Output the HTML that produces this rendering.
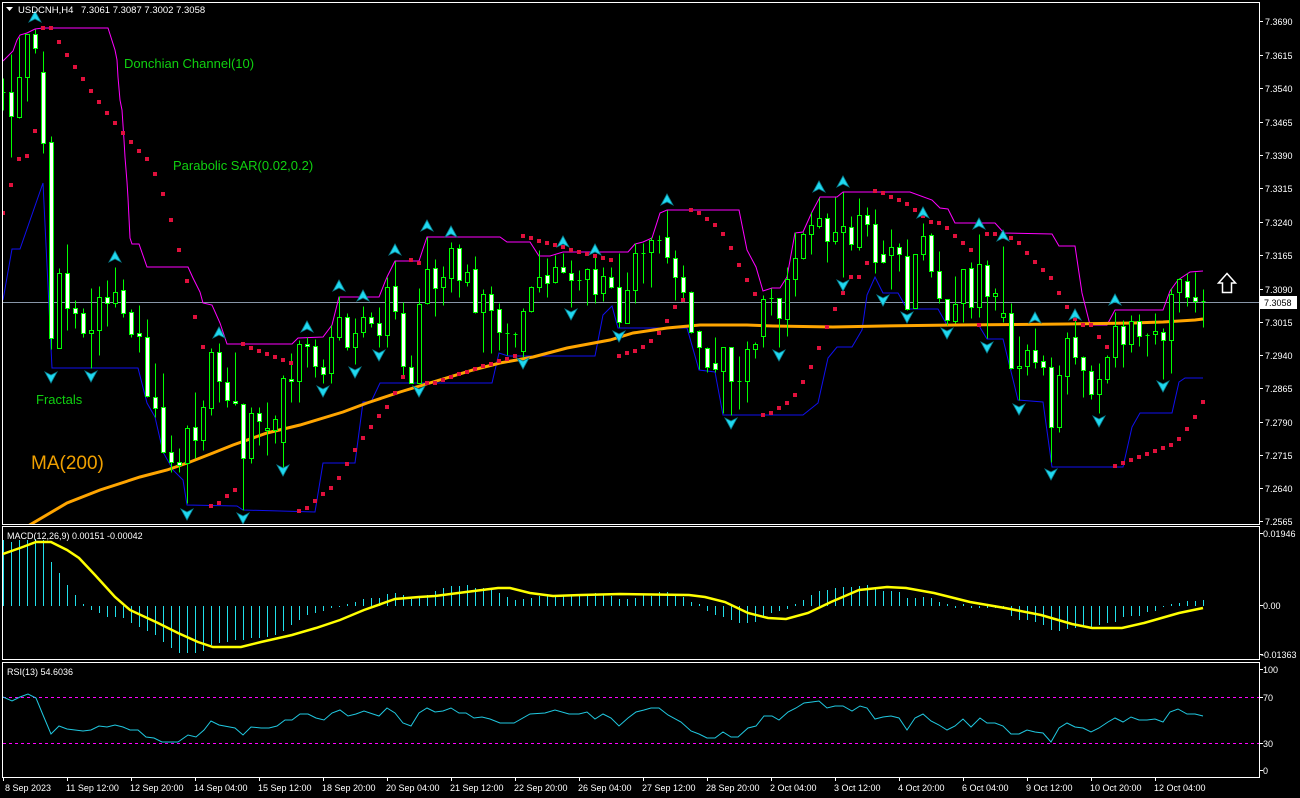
<!DOCTYPE html>
<html><head><meta charset="utf-8"><style>
html,body{margin:0;padding:0;background:#000;}
svg{display:block;font-family:"Liberation Sans",sans-serif;}
</style></head><body>
<svg width="1300" height="798" viewBox="0 0 1300 798" xmlns="http://www.w3.org/2000/svg">
<rect width="1300" height="798" fill="#000"/>
<defs><clipPath id="cm"><rect x="3" y="3" width="1256" height="521"/></clipPath>
<clipPath id="cd"><rect x="3" y="527" width="1256" height="133"/></clipPath>
<clipPath id="cr"><rect x="3" y="663" width="1256" height="114"/></clipPath></defs>
<!-- frames -->
<g fill="none" stroke="#fff" stroke-width="1" shape-rendering="crispEdges">
<rect x="2.5" y="2.5" width="1257" height="522"/>
<rect x="2.5" y="526.5" width="1257" height="133"/>
<rect x="2.5" y="662.5" width="1257" height="115"/>
</g>
<g clip-path="url(#cm)">
<line x1="3" y1="302.5" x2="1259" y2="302.5" stroke="#8896a8" stroke-width="1"/>
<polyline fill="none" stroke="#ff00ff" stroke-width="1" points="3,61 13,51 17,40 20,35 27,33 35,29 43,28 108,28 115,50 117,60 118,77 120,100 122,110 124,140 125,157 127,182 128,198 130,238 132,244 139,244 147,267 188,267 193,278 200,292 203,303 212,305 220,323 227,344 292,344 298,338 323,337 332,325 339,297 379,297 387,277 395,261 419,261 427,237 500,237 507,242 530,242 539,256 550,256 563,252 628,252 635,244 643,242 652,238 660,213 667,210 739,210 747,250 756,267 763,291 772,288 780,288 787,277 795,233 803,232 812,212 820,197 837,197 843,192 910,192 932,200 940,208 948,209 955,223 995,223 1004,233 1052,234 1059,246 1075,246 1082,293 1090,325 1107,325 1115,310 1163,310 1170,291 1178,280 1190,272 1203,271"/>
<polyline fill="none" stroke="#1010f0" stroke-width="1" points="3,300 12,249 20,249 43,183 51,348 52,368 138,368 147,403 155,417 163,452 173,470 183,480 187,505 237,506 243,510 315,512 323,463 355,463 363,402 371,402 380,383 492,383 499,353 508,356 595,356 603,315 610,308 612,306 618,328 687,328 699,370 715,372 723,415 803,415 818,403 828,358 837,347 852,347 862,330 867,295 875,277 883,293 898,293 907,309 938,309 947,325 978,324 987,339 1003,339 1018,400 1043,402 1052,467 1123,467 1132,427 1140,413 1172,413 1179,382 1185,378 1203,378"/>
<polyline fill="none" stroke="#ffa500" stroke-width="3" points="28,526 33,523 67,503 100,490 140,477 167,470 190,462 213,453 233,445 267,433 300,425 343,412 367,403 400,392 433,382 473,370 500,363 533,357 567,348 610,340 633,333 667,328 700,325 747,325 773,326 833,327 883,326 955,325 1067,324 1133,323 1163,322 1195,320 1203,319"/>
<g transform="translate(0.5,0.5)" stroke="#00ff00" stroke-width="1" shape-rendering="crispEdges">
<path fill="none" d="M3 78V110M11 54V157M19 37V118M27 34V101M35 29V53M43 51V153M51 136V349M59 268V348M67 244V330M75 300V328M83 308V337M91 288V368M99 286V355M107 280V326M115 267V307M123 279V317M131 309V337M139 305V352M147 319V397M155 363V417M163 373V453M171 435V472M179 448V472M187 425V503M195 392V458M203 400V450M211 348V415M219 343V402M227 367V407M235 352V405M243 403V510M251 407V463M259 407V445M267 402V455M275 415V443M283 375V475M291 353V402M299 340V402M307 337V367M315 339V377M323 359V383M331 325V383M339 296V340M347 313V350M355 318V364M363 306V337M371 312V327M379 307V347M387 277V347M395 261V319M403 302V377M411 355V383M419 288V383M427 237V304M435 259V316M443 266V305M451 242V292M459 244V297M467 264V286M475 256V313M483 289V352M491 286V353M499 303V350M507 323V355M515 332V347M523 308V357M531 286V312M539 250V292M547 258V297M555 255V283M563 253V273M571 260V307M579 270V290M587 268V305M595 255V303M603 267V301M611 267V288M619 253V327M627 272V323M635 243V303M643 243V283M651 237V287M659 235V253M667 210V263M675 250V300M683 265V302M691 291V333M699 330V369M707 347V372M715 337V372M723 347V413M731 347V415M739 356V409M747 341V402M755 342V358M763 295V347M771 288V315M779 298V347M787 267V336M795 232V296M803 232V259M811 212V254M819 198V228M827 213V262M835 197V244M843 192V277M851 216V250M859 198V250M867 207V236M875 209V273M883 240V263M891 229V289M899 243V271M907 239V310M915 254V308M923 223V260M931 233V277M939 251V303M947 299V325M955 276V323M963 269V322M971 262V318M979 234V317M987 260V338M995 288V310M1003 246V322M1011 303V369M1019 336V400M1027 344V375M1035 328V368M1043 355V375M1051 357V462M1059 365V432M1067 332V394M1075 317V364M1083 356V397M1091 365V399M1099 363V413M1107 355V383M1115 312V367M1123 320V367M1131 315V352M1139 314V346M1147 333V356M1155 313V344M1163 328V379M1171 288V373M1179 278V312M1187 273V306M1195 272V312M1203 289V327M1 92h4M505 333h4M513 334h4M577 280h4M641 253h4M657 240h4M737 381h4M769 298h4M1145 335h4M1201 301h4"/>
<path fill="#fff" d="M9 92h4v24h-4zM33 34h4v14h-4zM41 72h4v71h-4zM49 142h4v196h-4zM65 273h4v35h-4zM73 308h4v5h-4zM81 313h4v20h-4zM105 297h4v6h-4zM121 290h4v23h-4zM129 312h4v22h-4zM137 333h4v3h-4zM145 337h4v59h-4zM153 397h4v11h-4zM161 407h4v45h-4zM169 452h4v10h-4zM177 462h4v3h-4zM193 427h4v13h-4zM217 352h4v29h-4zM225 382h4v18h-4zM233 401h4v2h-4zM241 404h4v54h-4zM257 413h4v8h-4zM289 379h4v2h-4zM305 344h4v2h-4zM313 346h4v20h-4zM321 367h4v7h-4zM345 317h4v30h-4zM369 317h4v6h-4zM377 323h4v12h-4zM393 286h4v25h-4zM401 313h4v53h-4zM409 367h4v16h-4zM433 268h4v20h-4zM457 248h4v32h-4zM473 269h4v43h-4zM489 294h4v16h-4zM497 309h4v23h-4zM545 275h4v8h-4zM561 267h4v5h-4zM569 273h4v7h-4zM593 269h4v25h-4zM609 277h4v10h-4zM617 287h4v35h-4zM665 237h4v20h-4zM673 258h4v19h-4zM681 277h4v15h-4zM689 292h4v40h-4zM697 331h4v16h-4zM705 348h4v19h-4zM713 363h4v6h-4zM729 347h4v34h-4zM777 298h4v20h-4zM825 218h4v23h-4zM849 227h4v17h-4zM865 215h4v9h-4zM873 224h4v38h-4zM881 254h4v8h-4zM897 247h4v7h-4zM905 256h4v53h-4zM929 235h4v36h-4zM937 271h4v27h-4zM945 299h4v21h-4zM969 268h4v39h-4zM985 265h4v31h-4zM1009 313h4v55h-4zM1033 350h4v12h-4zM1041 361h4v6h-4zM1049 367h4v60h-4zM1073 337h4v20h-4zM1081 357h4v13h-4zM1089 371h4v23h-4zM1121 326h4v18h-4zM1137 321h4v15h-4zM1161 332h4v8h-4zM1185 281h4v16h-4zM1193 297h4v4h-4z"/>
<path fill="#000" d="M17 77h4v40h-4zM25 34h4v43h-4zM57 273h4v75h-4zM89 330h4v3h-4zM97 297h4v33h-4zM113 292h4v11h-4zM185 428h4v35h-4zM201 407h4v33h-4zM209 352h4v56h-4zM249 413h4v45h-4zM265 428h4v2h-4zM273 419h4v11h-4zM281 378h4v64h-4zM297 344h4v37h-4zM329 337h4v36h-4zM337 317h4v20h-4zM353 333h4v14h-4zM361 317h4v15h-4zM385 287h4v48h-4zM417 304h4v79h-4zM425 269h4v34h-4zM441 277h4v10h-4zM449 248h4v30h-4zM465 272h4v10h-4zM481 294h4v18h-4zM521 311h4v40h-4zM529 287h4v24h-4zM537 277h4v10h-4zM553 267h4v15h-4zM585 269h4v10h-4zM601 276h4v17h-4zM625 290h4v33h-4zM633 253h4v37h-4zM649 240h4v12h-4zM721 347h4v24h-4zM745 349h4v32h-4zM753 344h4v5h-4zM761 299h4v37h-4zM785 279h4v40h-4zM793 258h4v21h-4zM801 234h4v24h-4zM809 225h4v9h-4zM817 218h4v8h-4zM833 232h4v9h-4zM841 226h4v6h-4zM857 215h4v32h-4zM889 247h4v8h-4zM913 254h4v54h-4zM921 236h4v18h-4zM953 304h4v17h-4zM961 269h4v34h-4zM977 264h4v43h-4zM993 293h4v3h-4zM1001 313h4v4h-4zM1017 366h4v2h-4zM1025 350h4v16h-4zM1057 375h4v52h-4zM1065 338h4v38h-4zM1097 379h4v15h-4zM1105 357h4v22h-4zM1113 326h4v31h-4zM1129 321h4v23h-4zM1153 331h4v3h-4zM1169 294h4v46h-4zM1177 279h4v13h-4z"/>
</g>
<!-- Parabolic SAR -->
<path fill="#e0103c" d="M1 211h4v4h-4zM9 183h4v4h-4zM17 157h4v4h-4zM25 154h4v4h-4zM33 129h4v4h-4zM41 26h4v4h-4zM49 26h4v4h-4zM57 40h4v4h-4zM65 53h4v4h-4zM73 65h4v4h-4zM81 77h4v4h-4zM89 89h4v4h-4zM97 100h4v4h-4zM105 111h4v4h-4zM113 121h4v4h-4zM121 131h4v4h-4zM129 140h4v4h-4zM137 149h4v4h-4zM145 157h4v4h-4zM153 172h4v4h-4zM161 192h4v4h-4zM169 218h4v4h-4zM177 248h4v4h-4zM185 279h4v4h-4zM193 315h4v4h-4zM201 345h4v4h-4zM209 504h4v4h-4zM217 501h4v4h-4zM225 494h4v4h-4zM233 488h4v4h-4zM241 342h4v4h-4zM249 346h4v4h-4zM257 349h4v4h-4zM265 352h4v4h-4zM273 355h4v4h-4zM281 358h4v4h-4zM289 361h4v4h-4zM297 509h4v4h-4zM305 506h4v4h-4zM313 499h4v4h-4zM321 492h4v4h-4zM329 486h4v4h-4zM337 476h4v4h-4zM345 462h4v4h-4zM353 448h4v4h-4zM361 436h4v4h-4zM369 425h4v4h-4zM377 414h4v4h-4zM385 405h4v4h-4zM393 391h4v4h-4zM401 375h4v4h-4zM409 258h4v4h-4zM417 261h4v4h-4zM425 381h4v4h-4zM433 381h4v4h-4zM441 378h4v4h-4zM449 375h4v4h-4zM457 372h4v4h-4zM465 370h4v4h-4zM473 367h4v4h-4zM481 364h4v4h-4zM489 362h4v4h-4zM497 359h4v4h-4zM505 357h4v4h-4zM513 354h4v4h-4zM521 234h4v4h-4zM529 236h4v4h-4zM537 239h4v4h-4zM545 241h4v4h-4zM553 243h4v4h-4zM561 245h4v4h-4zM569 248h4v4h-4zM577 250h4v4h-4zM585 252h4v4h-4zM593 254h4v4h-4zM601 256h4v4h-4zM609 258h4v4h-4zM617 354h4v4h-4zM625 351h4v4h-4zM633 349h4v4h-4zM641 345h4v4h-4zM649 339h4v4h-4zM657 331h4v4h-4zM665 319h4v4h-4zM673 305h4v4h-4zM681 298h4v4h-4zM689 208h4v4h-4zM697 211h4v4h-4zM705 217h4v4h-4zM713 223h4v4h-4zM721 232h4v4h-4zM729 246h4v4h-4zM737 263h4v4h-4zM745 278h4v4h-4zM753 292h4v4h-4zM761 413h4v4h-4zM769 411h4v4h-4zM777 406h4v4h-4zM785 401h4v4h-4zM793 393h4v4h-4zM801 380h4v4h-4zM809 365h4v4h-4zM817 346h4v4h-4zM825 325h4v4h-4zM833 307h4v4h-4zM841 291h4v4h-4zM849 275h4v4h-4zM857 275h4v4h-4zM865 261h4v4h-4zM873 189h4v4h-4zM881 191h4v4h-4zM889 195h4v4h-4zM897 198h4v4h-4zM905 202h4v4h-4zM913 208h4v4h-4zM921 214h4v4h-4zM929 220h4v4h-4zM937 221h4v4h-4zM945 226h4v4h-4zM953 234h4v4h-4zM961 241h4v4h-4zM969 248h4v4h-4zM977 323h4v4h-4zM985 232h4v4h-4zM993 232h4v4h-4zM1001 235h4v4h-4zM1009 236h4v4h-4zM1017 241h4v4h-4zM1025 251h4v4h-4zM1033 260h4v4h-4zM1041 268h4v4h-4zM1049 276h4v4h-4zM1057 291h4v4h-4zM1065 305h4v4h-4zM1073 317h4v4h-4zM1081 323h4v4h-4zM1089 323h4v4h-4zM1097 335h4v4h-4zM1105 345h4v4h-4zM1113 464h4v4h-4zM1121 461h4v4h-4zM1129 458h4v4h-4zM1137 455h4v4h-4zM1145 452h4v4h-4zM1153 449h4v4h-4zM1161 446h4v4h-4zM1169 443h4v4h-4zM1177 437h4v4h-4zM1185 427h4v4h-4zM1193 415h4v4h-4zM1201 400h4v4h-4z"/>
<!-- Fractals -->
<path fill="#20d8f0" stroke="#0a8090" stroke-width="0.8" d="M35 11l6 11l-6-3l-6 3zM115 251l6 11l-6-3l-6 3zM219 327l6 11l-6-3l-6 3zM307 321l6 11l-6-3l-6 3zM339 280l6 11l-6-3l-6 3zM363 290l6 11l-6-3l-6 3zM395 244l6 11l-6-3l-6 3zM427 220l6 11l-6-3l-6 3zM451 226l6 11l-6-3l-6 3zM563 236l6 11l-6-3l-6 3zM595 244l6 11l-6-3l-6 3zM667 194l6 11l-6-3l-6 3zM819 181l6 11l-6-3l-6 3zM843 176l6 11l-6-3l-6 3zM923 207l6 11l-6-3l-6 3zM979 218l6 11l-6-3l-6 3zM1003 230l6 11l-6-3l-6 3zM1035 312l6 11l-6-3l-6 3zM1075 309l6 11l-6-3l-6 3zM1115 294l6 11l-6-3l-6 3zM51 383l6-11l-6 3l-6-3zM91 382l6-11l-6 3l-6-3zM187 520l6-11l-6 3l-6-3zM243 524l6-11l-6 3l-6-3zM283 476l6-11l-6 3l-6-3zM323 397l6-11l-6 3l-6-3zM355 378l6-11l-6 3l-6-3zM379 361l6-11l-6 3l-6-3zM419 397l6-11l-6 3l-6-3zM523 369l6-11l-6 3l-6-3zM571 320l6-11l-6 3l-6-3zM619 342l6-11l-6 3l-6-3zM731 429l6-11l-6 3l-6-3zM779 361l6-11l-6 3l-6-3zM843 291l6-11l-6 3l-6-3zM883 306l6-11l-6 3l-6-3zM907 323l6-11l-6 3l-6-3zM947 339l6-11l-6 3l-6-3zM987 353l6-11l-6 3l-6-3zM1019 415l6-11l-6 3l-6-3zM1051 480l6-11l-6 3l-6-3zM1099 427l6-11l-6 3l-6-3zM1163 392l6-11l-6 3l-6-3z"/>
<!-- up arrow sign -->
<path fill="none" stroke="#fff" stroke-width="1.5" d="M1227 273.5L1235.5 283H1231.5V292.5H1222.5V283H1218.5Z"/>
<!-- labels -->
<text x="124" y="68" font-size="13" fill="#10d010">Donchian Channel(10)</text>
<text x="173" y="170" font-size="13" fill="#10d010">Parabolic SAR(0.02,0.2)</text>
<text x="36" y="404" font-size="13" fill="#10d010">Fractals</text>
<text x="31" y="469" font-size="19" fill="#f0a000">MA(200)</text>
</g>
<!-- header -->
<path d="M6 7h7l-3.5 4z" fill="#fff"/>
<text x="18" y="13" font-size="9.5" fill="#fff">USDCNH,H4</text>
<text x="81" y="13" font-size="9.5" fill="#fff">7.3061 7.3087 7.3002 7.3058</text>
<!-- price axis -->
<g stroke="#fff" stroke-width="1" shape-rendering="crispEdges">
<path d="M1259 21.5h4M1259 55.5h4M1259 88.5h4M1259 122.5h4M1259 155.5h4M1259 188.5h4M1259 222.5h4M1259 255.5h4M1259 289.5h4M1259 322.5h4M1259 355.5h4M1259 388.5h4M1259 422.5h4M1259 455.5h4M1259 488.5h4M1259 521.5h4M1259 533.5h4M1259 605.5h4M1259 654.5h4M1259 669.5h4M1259 697.5h4M1259 743.5h4M1259 770.5h4"/>
<path d="M3.5 777v4M67.5 777v4M131.5 777v4M195.5 777v4M259.5 777v4M323.5 777v4M387.5 777v4M451.5 777v4M515.5 777v4M579.5 777v4M643.5 777v4M707.5 777v4M771.5 777v4M835.5 777v4M899.5 777v4M963.5 777v4M1027.5 777v4M1091.5 777v4M1155.5 777v4"/>
</g>
<g font-size="9" fill="#fff">
<text x="1265" y="25">7.3690</text>
<text x="1265" y="59">7.3615</text>
<text x="1265" y="92">7.3540</text>
<text x="1265" y="126">7.3465</text>
<text x="1265" y="159">7.3390</text>
<text x="1265" y="192">7.3315</text>
<text x="1265" y="226">7.3240</text>
<text x="1265" y="259">7.3165</text>
<text x="1265" y="293">7.3090</text>
<text x="1265" y="326">7.3015</text>
<text x="1265" y="359">7.2940</text>
<text x="1265" y="392">7.2865</text>
<text x="1265" y="426">7.2790</text>
<text x="1265" y="459">7.2715</text>
<text x="1265" y="492">7.2640</text>
<text x="1265" y="525">7.2565</text>
</g>
<rect x="1260" y="296" width="37" height="13" fill="#fff"/>
<text x="1264" y="306" font-size="9" fill="#000">7.3058</text>
<!-- MACD -->
<g clip-path="url(#cd)">
<path transform="translate(0.5,0)" stroke="#20e0ea" stroke-width="1" fill="none" shape-rendering="crispEdges" d="M3 606V540M11 606V542M19 606V540M27 606V540M35 606V539M43 606V540M51 606V562M59 606V573M67 606V585M75 606V595M83 606V604M91 606V610M99 606V613M107 606V617M115 606V617M123 606V618M131 606V623M139 606V627M147 606V631M155 606V635M163 606V642M171 606V648M179 606V653M187 606V653M195 606V653M203 606V651M211 606V645M219 606V643M227 606V642M235 606V640M243 606V640M251 606V638M259 606V638M267 606V637M275 606V635M283 606V631M291 606V625M299 606V620M307 606V615M315 606V613M323 606V611M331 606V608M339 606V607M347 606V604M355 606V602M363 606V599M371 606V598M379 606V598M387 606V594M395 606V593M403 606V595M411 606V599M419 606V597M427 606V595M435 606V591M443 606V588M451 606V586M459 606V586M467 606V585M475 606V588M483 606V588M491 606V590M499 606V593M507 606V597M515 606V600M523 606V599M531 606V598M539 606V596M547 606V595M555 606V596M563 606V596M571 606V595M579 606V595M587 606V595M595 606V593M603 606V594M611 606V596M619 606V599M627 606V599M635 606V598M643 606V595M651 606V596M659 606V592M667 606V592M675 606V596M683 606V597M691 606V602M699 606V604M707 606V611M715 606V615M723 606V617M731 606V620M739 606V623M747 606V623M755 606V622M763 606V617M771 606V613M779 606V611M787 606V609M795 606V604M803 606V600M811 606V595M819 606V591M827 606V590M835 606V588M843 606V587M851 606V587M859 606V586M867 606V585M875 606V588M883 606V591M891 606V591M899 606V592M907 606V598M915 606V598M923 606V597M931 606V598M939 606V602M947 606V604M955 606V608M963 606V604M971 606V608M979 606V608M987 606V608M995 606V608M1003 606V608M1011 606V616M1019 606V620M1027 606V620M1035 606V622M1043 606V625M1051 606V630M1059 606V631M1067 606V629M1075 606V628M1083 606V627M1091 606V627M1099 606V625M1107 606V623M1115 606V622M1123 606V617M1131 606V616M1139 606V616M1147 606V612M1155 606V611M1163 606V607M1171 606V604M1179 606V603M1187 606V601M1195 606V601M1203 606V600"/>
<polyline fill="none" stroke="#ffff00" stroke-width="2.5" points="3,554 20,548 36,542 51,542 67,550 79,558 95,575 115,597 130,610 158,623 178,633 198,642 213,647 241,647 261,642 292,635 316,628 340,620 364,610 395,599 419,597 435,596 466,592 498,588 510,588 530,593 553,596 581,595 620,594 689,595 705,597 725,602 748,613 768,618 786,619 808,613 831,602 859,590 887,587 906,588 934,593 970,602 1005,608 1041,615 1072,624 1092,628 1122,628 1144,623 1179,613 1203,608"/>
</g>
<text x="7" y="539" font-size="9" fill="#fff">MACD(12,26,9) 0.00151 -0.00042</text>
<g font-size="9" fill="#fff">
<text x="1263" y="537">0.01946</text>
<text x="1263" y="609">0.00</text>
<text x="1261" y="658">-0.01363</text>
<text x="1263" y="673">100</text>
<text x="1263" y="701">70</text>
<text x="1263" y="747">30</text>
<text x="1263" y="774">0</text>
</g>
<!-- RSI -->
<g clip-path="url(#cr)">
<g stroke="#ff00ff" stroke-width="1" stroke-dasharray="3 3" shape-rendering="crispEdges">
<line x1="3" y1="697.5" x2="1259" y2="697.5"/>
<line x1="3" y1="743.5" x2="1259" y2="743.5"/>
</g>
<polyline fill="none" stroke="#20c8e0" stroke-width="1" points="3,697 12,701 20,697 28,694 36,698 43,715 51,734 59,726 67,729 83,731 91,730 99,726 107,727 115,725 123,727 130,730 138,730 146,737 154,738 162,742 178,742 188,735 196,737 204,730 211,721 219,725 235,728 243,735 251,727 261,728 269,728 277,726 285,720 292,720 300,714 308,714 316,718 324,720 332,713 340,710 348,716 356,714 364,711 379,716 387,708 395,713 403,723 411,726 419,713 427,708 435,712 443,711 451,708 459,713 466,713 474,718 482,717 490,719 500,723 514,723 530,714 545,713 555,710 569,714 579,714 587,712 595,719 603,714 611,718 619,726 628,718 636,712 644,710 651,708 659,708 668,715 681,722 691,731 699,734 707,738 715,738 723,732 731,737 738,737 748,728 756,726 764,716 772,716 779,720 788,712 796,708 804,703 812,702 819,701 827,708 835,706 843,706 852,711 860,706 867,708 875,719 883,717 891,716 899,718 907,730 915,718 923,714 931,721 939,725 947,730 955,726 963,719 971,727 980,718 987,723 995,723 1003,726 1011,734 1019,734 1027,730 1035,732 1043,733 1051,742 1059,728 1067,723 1075,727 1083,728 1091,732 1099,728 1108,722 1115,718 1123,722 1131,717 1139,720 1147,720 1155,719 1163,722 1170,712 1178,709 1187,714 1195,714 1203,716"/>
</g>
<text x="7" y="675" font-size="9" fill="#fff">RSI(13) 54.6036</text>
<!-- time axis -->
<g font-size="9" fill="#fff">
<text x="5" y="791">8 Sep 2023</text>
<text x="66" y="791">11 Sep 12:00</text>
<text x="130" y="791">12 Sep 20:00</text>
<text x="194" y="791">14 Sep 04:00</text>
<text x="258" y="791">15 Sep 12:00</text>
<text x="322" y="791">18 Sep 20:00</text>
<text x="386" y="791">20 Sep 04:00</text>
<text x="450" y="791">21 Sep 12:00</text>
<text x="514" y="791">22 Sep 20:00</text>
<text x="578" y="791">26 Sep 04:00</text>
<text x="642" y="791">27 Sep 12:00</text>
<text x="706" y="791">28 Sep 20:00</text>
<text x="770" y="791">2 Oct 04:00</text>
<text x="834" y="791">3 Oct 12:00</text>
<text x="898" y="791">4 Oct 20:00</text>
<text x="962" y="791">6 Oct 04:00</text>
<text x="1026" y="791">9 Oct 12:00</text>
<text x="1090" y="791">10 Oct 20:00</text>
<text x="1154" y="791">12 Oct 04:00</text>
</g>
</svg>
</body></html>
